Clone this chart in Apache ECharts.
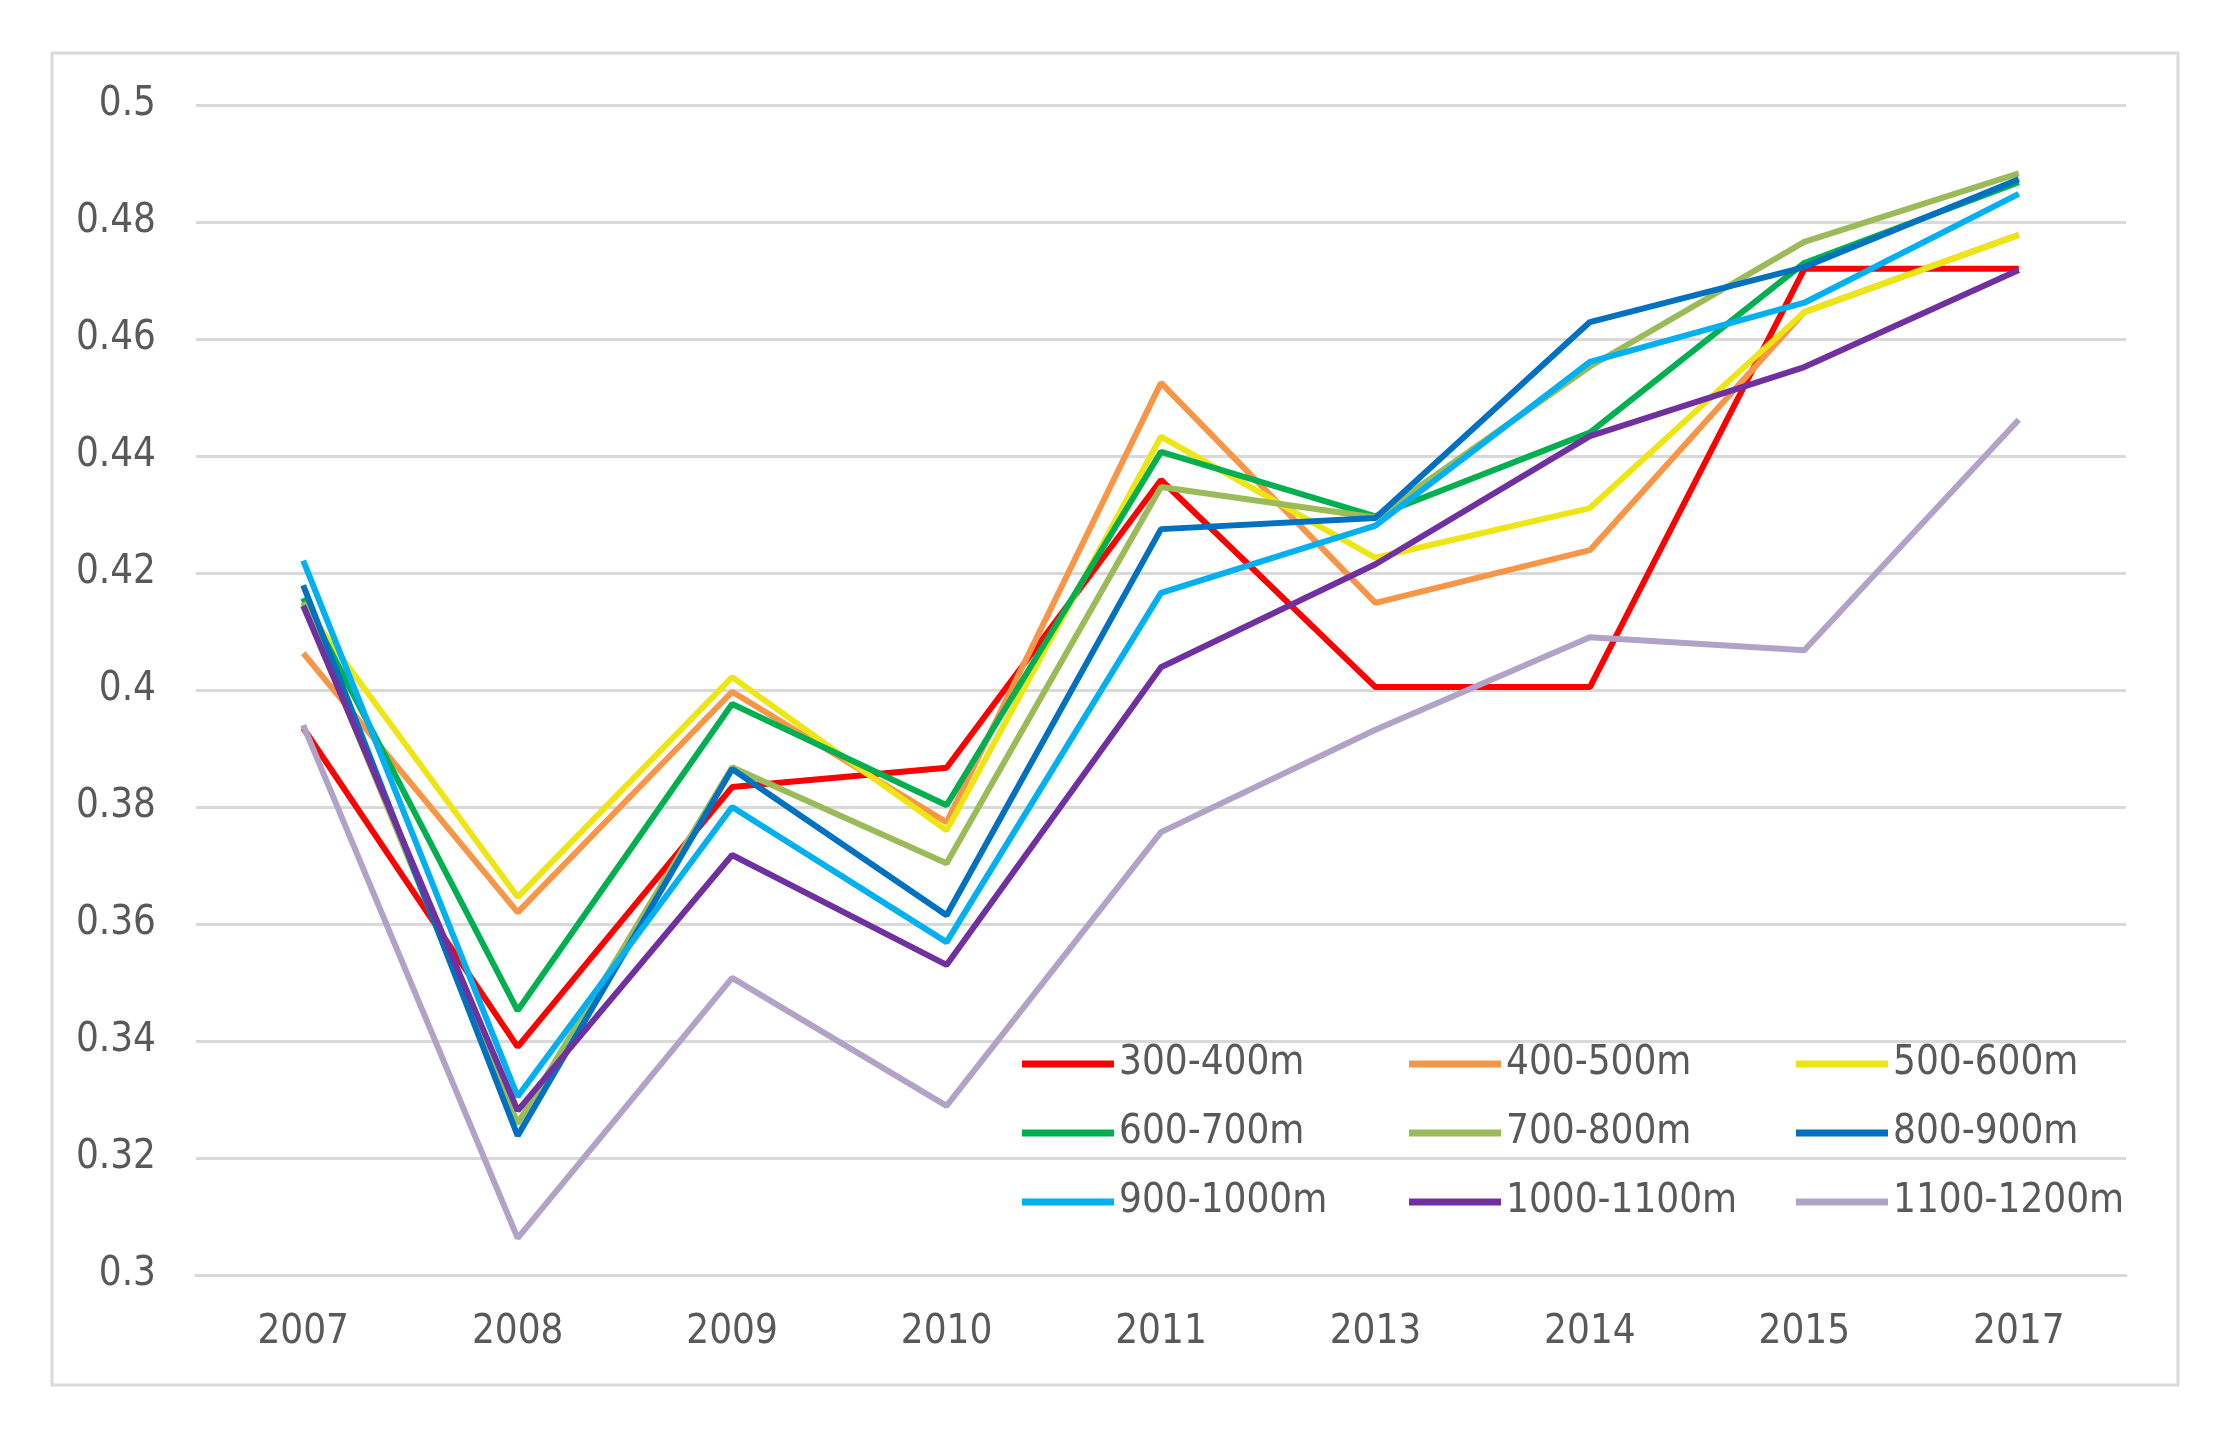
<!DOCTYPE html>
<html>
<head>
<meta charset="utf-8">
<script src="https://cdn.jsdelivr.net/npm/echarts@6/dist/echarts.min.js"></script>
<style>
html,body{margin:0;padding:0;background:#fff;}
#chart{width:2222px;height:1444px;}
</style>
</head>
<body>
<div id="chart"></div>
<script>
var categories = ['2007','2008','2009','2010','2011','2013','2014','2015','2017'];
var seriesNames = ['300-400m','400-500m','500-600m','600-700m','700-800m','800-900m','900-1000m','1000-1100m','1100-1200m'];
var s300_400 = [0.3935, 0.339, 0.3834, 0.3867, 0.4359, 0.4005, 0.4005, 0.472, 0.472];
var s400_500 = [0.4063, 0.362, 0.3997, 0.3774, 0.4525, 0.4149, 0.4239, 0.4646, 0.4778];
var s500_600 = [0.4145, 0.3646, 0.4022, 0.376, 0.4433, 0.4226, 0.4311, 0.4646, 0.4778];
var s600_700 = [0.4157, 0.3452, 0.3976, 0.3803, 0.4407, 0.4297, 0.4440, 0.473, 0.4868];
var s700_800 = [0.415, 0.3259, 0.3868, 0.3704, 0.4347, 0.4295, 0.4553, 0.4766, 0.4883];
var s800_900 = [0.4179, 0.3238, 0.3865, 0.3615, 0.4275, 0.4294, 0.4629, 0.4723, 0.4873];
var s900_1000 = [0.4221, 0.3305, 0.38, 0.3569, 0.4166, 0.4281, 0.4561, 0.4662, 0.4848];
var s1000_1100 = [0.4144, 0.3281, 0.3718, 0.353, 0.4039, 0.4215, 0.4434, 0.4552, 0.4718];
var s1100_1200 = [0.394, 0.3063, 0.3508, 0.3289, 0.3757, 0.3932, 0.409, 0.4068, 0.4462];
var seriesValues = [s300_400, s400_500, s500_600, s600_700, s700_800, s800_900, s900_1000, s1000_1100, s1100_1200];
var colors = ['#FF0000','#F79646','#EEE614','#00B050','#9BBB59','#0070C0','#00B0F0','#7030A0','#B3A2C7'];
var yTicks = {min: 0.3, max: 0.5, interval: 0.02};

var FONT = '"Liberation Sans Narrow", "DejaVu Sans Condensed", sans-serif';
var TXT = '#595959';

var chart = echarts.init(document.getElementById('chart'), null, {renderer: 'canvas'});

var series = seriesNames.map(function(n, i){
  return {
    name: n, type: 'line', data: seriesValues[i], symbol: 'none',
    lineStyle: {color: colors[i], width: 6},
    itemStyle: {color: colors[i]}
  };
});

function legendCol(left, names){
  return {
    orient: 'vertical', left: left, top: 1035,
    data: names, icon: 'rect', itemWidth: 92, itemHeight: 7, itemGap: 21,
    textStyle: {fontFamily: FONT, fontSize: 40, color: TXT, lineHeight: 48, padding: [0,0,0,0]}
  };
}

chart.setOption({
  animation: false,
  backgroundColor: '#fff',
  color: colors,
  graphic: [{
    type: 'rect', shape: {x: 52, y: 53, width: 2126, height: 1332},
    style: {fill: 'none', stroke: '#D9D9D9', lineWidth: 3}, z: -1
  }],
  grid: {left: 196, right: 96, top: 105, bottom: 169, containLabel: false},
  legend: [
    legendCol(1017, [seriesNames[0], seriesNames[3], seriesNames[6]]),
    legendCol(1404, [seriesNames[1], seriesNames[4], seriesNames[7]]),
    legendCol(1791, [seriesNames[2], seriesNames[5], seriesNames[8]])
  ],
  xAxis: {
    type: 'category', data: categories, boundaryGap: true,
    axisLine: {show: true, lineStyle: {color: '#D9D9D9', width: 3}},
    axisTick: {show: false},
    axisLabel: {fontFamily: FONT, fontSize: 40, color: TXT, margin: 38}
  },
  yAxis: {
    type: 'value', min: yTicks.min, max: yTicks.max, interval: yTicks.interval,
    axisLine: {show: false}, axisTick: {show: false},
    splitLine: {lineStyle: {color: '#D9D9D9', width: 3}},
    axisLabel: {fontFamily: FONT, fontSize: 40, color: TXT, margin: 40}
  },
  series: series
});
</script>
</body>
</html>
